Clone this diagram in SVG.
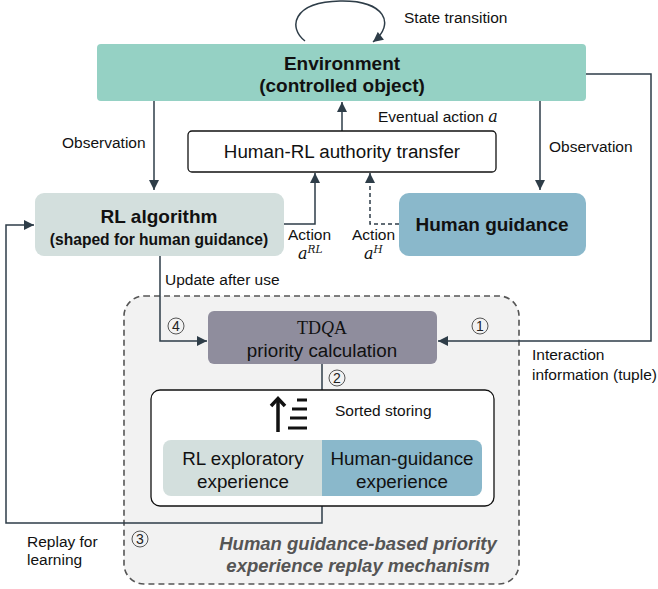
<svg xmlns="http://www.w3.org/2000/svg" width="658" height="589" viewBox="0 0 658 589">
<defs>
<marker id="ah" viewBox="0 0 10 10" refX="10" refY="5" markerWidth="11" markerHeight="10" markerUnits="userSpaceOnUse" orient="auto">
<path d="M0,0 L10,5 L0,10 z" fill="#2e3d48"/>
</marker>
<style>
text{font-family:"Liberation Sans",Arial,sans-serif;fill:#111}
.lbl{font-size:15.5px}
.big{font-size:19px;font-weight:bold}
.mid{font-size:18.8px}
.conn{fill:none;stroke:#2e3d48;stroke-width:1.5}
.math{font-family:"DejaVu Serif","Liberation Serif",serif;font-style:italic}
.num{font-size:14px;fill:#222}
.nc{fill:none;stroke:#555;stroke-width:1}
</style>
</defs>
<rect width="658" height="589" fill="#fff"/>
<g id="replay-region">
<rect x="124" y="296" width="395" height="288" rx="20" fill="#f2f2f2" stroke="#555" stroke-width="1.6" stroke-dasharray="6,4"/>
<text x="358" y="550" text-anchor="middle" style="font-size:18.5px;font-weight:bold;font-style:italic;fill:#555">Human guidance-based priority</text>
<text x="358" y="572" text-anchor="middle" style="font-size:18.5px;font-weight:bold;font-style:italic;fill:#555">experience replay mechanism</text>
</g>
<g id="connectors">
<path class="conn" d="M305,41 C288,28 292,2 340,1 C385,0 396,24 373,42" marker-end="url(#ah)"/>
<path class="conn" d="M154,101 V190" marker-end="url(#ah)"/>
<path class="conn" d="M540,101 V190" marker-end="url(#ah)"/>
<path class="conn" d="M342,131 V102" marker-end="url(#ah)"/>
<path class="conn" d="M284,224 H315 V173" marker-end="url(#ah)"/>
<path class="conn" d="M399,224 H370 V173" stroke-dasharray="4,3" marker-end="url(#ah)"/>
<path class="conn" d="M586,74 H651 V341 H438" marker-end="url(#ah)"/>
<path class="conn" d="M160,256 V341 H207" marker-end="url(#ah)"/>
<path class="conn" d="M322,364 V438" marker-end="url(#ah)"/>
<path class="conn" d="M322,497 V523 H6 V225 H34" marker-end="url(#ah)"/>
</g>
<g id="environment">
<rect x="97" y="44" width="489" height="57" rx="4" fill="#95d1c4"/>
<text x="342" y="70" text-anchor="middle" class="big">Environment</text>
<text x="342" y="92" text-anchor="middle" class="big">(controlled object)</text>
</g>
<text x="404" y="23" class="lbl">State transition</text>
<text x="62" y="148" class="lbl">Observation</text>
<text x="549" y="152" class="lbl">Observation</text>
<text x="378" y="122" class="lbl">Eventual action <tspan class="math" font-size="16">a</tspan></text>
<g id="authority-transfer">
<rect x="188" y="131" width="308" height="41" rx="4" fill="#fff" stroke="#111" stroke-width="1.3"/>
<text x="342" y="158" text-anchor="middle" class="mid">Human-RL authority transfer</text>
</g>
<g id="rl-algorithm">
<rect x="35" y="193" width="249" height="63" rx="9" fill="#d3dfdd"/>
<text x="159" y="223" text-anchor="middle" class="big">RL algorithm</text>
<text x="159" y="245" text-anchor="middle" style="font-size:15.6px;font-weight:bold">(shaped for human guidance)</text>
</g>
<g id="human-guidance">
<rect x="399" y="193" width="187" height="63" rx="10" fill="#8ab8cb"/>
<text x="492" y="231" text-anchor="middle" class="big">Human guidance</text>
</g>
<text x="288" y="240" class="lbl">Action</text>
<text x="298" y="259" class="math" font-size="16">a<tspan font-size="10.5" dy="-6">RL</tspan></text>
<text x="352" y="240" class="lbl">Action</text>
<text x="364" y="259" class="math" font-size="16">a<tspan font-size="10.5" dy="-6">H</tspan></text>
<text x="165" y="285" class="lbl">Update after use</text>
<g id="tdqa">
<rect x="208" y="311" width="229" height="53" rx="6" fill="#8f8d9d"/>
<text x="322" y="334" text-anchor="middle" style="font-family:'Liberation Serif',serif;font-size:18px">TD<tspan font-style="italic">Q</tspan>A</text>
<text x="322" y="357" text-anchor="middle" class="mid">priority calculation</text>
</g>
<g id="step-numbers">
<circle class="nc" cx="176" cy="326" r="8"/><text x="176" y="331" text-anchor="middle" class="num">4</text>
<circle class="nc" cx="480" cy="326" r="8"/><text x="480" y="331" text-anchor="middle" class="num">1</text>
<circle class="nc" cx="337" cy="378" r="8"/><text x="337" y="383" text-anchor="middle" class="num">2</text>
<circle class="nc" cx="140" cy="539" r="8"/><text x="140" y="544" text-anchor="middle" class="num">3</text>
</g>
<text x="532" y="360" class="lbl">Interaction</text>
<text x="532" y="380" class="lbl">information (tuple)</text>
<g id="buffer">
<rect x="151" y="390" width="343" height="116" rx="9" fill="#fff" stroke="#111" stroke-width="1.3"/>
<g id="sort-icon" stroke="#111" fill="none">
<path d="M278,432 V400" stroke-width="3.5"/>
<path d="M271,406 L278,398.5 L285,406" stroke-width="3.5"/>
<path d="M297,400 H307 M292,409 H307 M290,418 H307 M288,428 H307" stroke-width="3"/>
</g>
<text x="335" y="416" class="lbl">Sorted storing</text>
<path d="M171,440 H322 V496 H171 a8,8 0 0 1 -8,-8 V448 a8,8 0 0 1 8,-8 z" fill="#d3dfdd"/>
<path d="M322,440 H474 a8,8 0 0 1 8,8 V488 a8,8 0 0 1 -8,8 H322 z" fill="#8ab8cb"/>
<text x="243" y="465" text-anchor="middle" class="mid">RL exploratory</text>
<text x="243" y="488" text-anchor="middle" class="mid">experience</text>
<text x="402" y="465" text-anchor="middle" class="mid">Human-guidance</text>
<text x="402" y="488" text-anchor="middle" class="mid">experience</text>
</g>
<text x="27" y="547" class="lbl">Replay for</text>
<text x="27" y="565" class="lbl">learning</text>
</svg>
